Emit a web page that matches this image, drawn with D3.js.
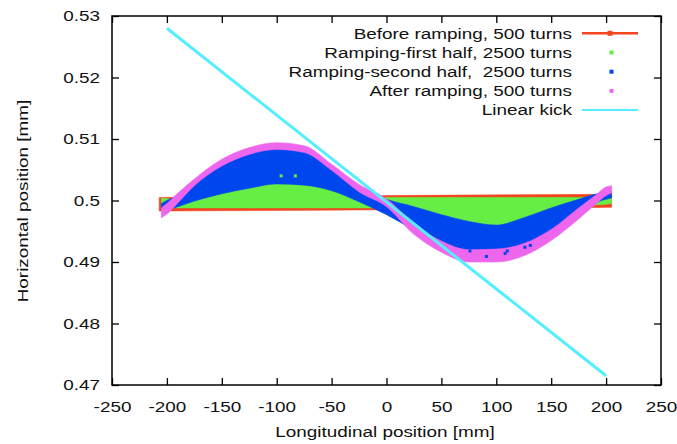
<!DOCTYPE html>
<html><head><meta charset="utf-8">
<script src="https://cdn.jsdelivr.net/npm/d3@7"></script>
<style>
html,body{margin:0;padding:0;background:#fff;}
svg{display:block;font-family:"Liberation Sans",Arial,Helvetica,sans-serif;}
</style></head>
<body><svg id="c" width="677" height="444"></svg>
<script>
// ---- data ----
const xTicks = [-250,-200,-150,-100,-50,0,50,100,150,200,250];
const yTicks = [0.47,0.48,0.49,0.5,0.51,0.52,0.53];
const seriesNames = ["Before ramping, 500 turns","Ramping-first half, 2500 turns","Ramping-second half,  2500 turns","After ramping, 500 turns","Linear kick"];

// band sample positions (mm)
const bandX = [-205,-200,-190,-175,-150,-125,-100,-75,-50,-25,0,25,50,75,100,125,150,175,190,200,205];

// Before ramping (red)
const redX  = [-207, 0, 205];
const redLo = [0.4983, 0.4985, 0.4989];
const redHi = [0.5005, 0.5008, 0.5010];

// Ramping first half (green)
const greenLo = [0.4990,0.4989,0.4988,0.4988,0.4988,0.4988,0.4988,0.4988,0.4988,0.4988,0.4988,0.4987,0.4975,0.4965,0.4959,0.4971,0.4986,0.4999,0.4993,0.4994,0.4995];
const greenHi = [0.5004,0.5003,0.5001,0.5003,0.5013,0.5023,0.5030,0.5027,0.5018,0.5002,0.5005,0.5005,0.5005,0.5005,0.5005,0.5005,0.5005,0.5005,0.5005,0.5005,0.5005];

// Ramping second half (blue)
const blueLo = [0.4983,0.4985,0.4990,0.4999,0.5011,0.5020,0.5027,0.5025,0.5016,0.4998,0.4977,0.4952,0.4928,0.4915,0.4914,0.4920,0.4940,0.4975,0.4996,0.5002,0.5004];
const blueHi = [0.4995,0.5000,0.5008,0.5030,0.5062,0.5080,0.5088,0.5084,0.5055,0.5022,0.5002,0.4990,0.4977,0.4966,0.4960,0.4972,0.4988,0.5002,0.5010,0.5014,0.5015];

// After ramping (magenta)
const magLo = [0.4972,0.4978,0.4996,0.5024,0.5056,0.5075,0.5083,0.5078,0.5049,0.5014,0.4990,0.4945,0.4916,0.4900,0.4900,0.4910,0.4935,0.4970,0.4993,0.5008,0.5012];
const magHi = [0.4988,0.4995,0.5012,0.5035,0.5067,0.5086,0.5094,0.5089,0.5059,0.5026,0.5003,0.4962,0.4934,0.4920,0.4921,0.4930,0.4953,0.4988,0.5008,0.5022,0.5024];

// stray points
const greenDotsX = [-96,-83];
const greenDotsY = [0.5040,0.5040];
const blueDotsX = [76,91,108,110,126,131];
const blueDotsY = [0.4918,0.4909,0.4914,0.4918,0.4924,0.4927];

// Linear kick (cyan)
const kickX = [-200, 200];
const kickY = [0.528, 0.4715];

// ---- layout ----
const colors = {red:"#f2441e", green:"#66ee44", blue:"#0046ee", mag:"#ee66ee", cyan:"#55eeff"};
const M = {left:112, right:661, top:16, bottom:385};
const SX = 1.22; // horizontal text stretch
const FS = 15.5;

const svg = d3.select("#c");
const x = d3.scaleLinear().domain([-250,250]).range([M.left, M.right]);
const y = d3.scaleLinear().domain([0.47,0.53]).range([M.bottom, M.top]);

function band(xs, lo, hi, color){
  const data = xs.map((v,i)=>({x:v, lo:lo[i], hi:hi[i]}));
  svg.append("path").datum(data)
    .attr("fill", color).attr("stroke", color).attr("stroke-width", 0.6)
    .attr("d", d3.area().x(d=>x(d.x)).y0(d=>y(d.lo)).y1(d=>y(d.hi)).curve(d3.curveMonotoneX));
}
band(redX, redLo, redHi, colors.red);
band(bandX, greenLo, greenHi, colors.green);
band(bandX, blueLo, blueHi, colors.blue);
band(bandX, magLo, magHi, colors.mag);

svg.append("g").selectAll("rect").data(greenDotsX).join("rect")
  .attr("x",(d)=>x(d)-1.5).attr("y",(d,i)=>y(greenDotsY[i])-1.5).attr("width",3).attr("height",3).attr("fill",colors.green);
svg.append("g").selectAll("rect").data(blueDotsX).join("rect")
  .attr("x",(d)=>x(d)-1.5).attr("y",(d,i)=>y(blueDotsY[i])-1.5).attr("width",3).attr("height",3).attr("fill",colors.blue);

svg.append("path").datum(kickX.map((v,i)=>[v,kickY[i]]))
  .attr("fill","none").attr("stroke",colors.cyan).attr("stroke-width",3)
  .attr("d", d3.line().x(d=>x(d[0])).y(d=>y(d[1])));

// ---- axes ----
function styleAxis(g){
  g.select(".domain").remove();
  g.selectAll(".tick line").attr("stroke","#000").attr("stroke-width",1.3);
  g.selectAll("text").attr("font-size",FS).attr("fill","#111")
    .attr("font-family","Liberation Sans, Arial, sans-serif");
}
const gb = svg.append("g").attr("transform",`translate(0,${M.bottom})`)
  .call(d3.axisBottom(x).tickValues(xTicks).tickSizeInner(-7).tickSizeOuter(0).tickPadding(16).tickFormat(d=>String(d)));
styleAxis(gb);
gb.selectAll("text").attr("transform",`scale(${SX},1)`);

const gl = svg.append("g").attr("transform",`translate(${M.left},0)`)
  .call(d3.axisLeft(y).tickValues(yTicks).tickSizeInner(-7).tickSizeOuter(0).tickPadding(9.8).tickFormat(d=>String(+d.toFixed(2))));
styleAxis(gl);
gl.selectAll("text").attr("transform",`scale(${SX},1)`);

const gt = svg.append("g").attr("transform",`translate(0,${M.top})`)
  .call(d3.axisTop(x).tickValues(xTicks).tickSizeInner(-7).tickSizeOuter(0).tickFormat(""));
styleAxis(gt);
const gr = svg.append("g").attr("transform",`translate(${M.right},0)`)
  .call(d3.axisRight(y).tickValues(yTicks).tickSizeInner(-7).tickSizeOuter(0).tickFormat(""));
styleAxis(gr);

svg.append("rect").attr("x",M.left).attr("y",M.top)
  .attr("width",M.right-M.left).attr("height",M.bottom-M.top)
  .attr("fill","none").attr("stroke","#000").attr("stroke-width",1.5);

// titles
function label(txt, tx, ty, rot, anchor){
  svg.append("text").text(txt)
    .attr("transform",`translate(${tx},${ty}) rotate(${rot}) scale(${SX},1)`)
    .attr("text-anchor",anchor).attr("font-size",FS).attr("fill","#111")
    .style("white-space","pre");
}
label("Longitudinal position [mm]", 385, 437, 0, "middle");
label("Horizontal position [mm]", 28, 201, -90, "middle");

// ---- legend ----
const legColors = [colors.red, colors.green, colors.blue, colors.mag, colors.cyan];
seriesNames.forEach((nm,i)=>{
  const cy = 33.3 + i*19.2;
  label(nm, 572, cy+5.3, 0, "end");
  if(i===0){
    svg.append("line").attr("x1",582).attr("x2",638).attr("y1",cy).attr("y2",cy).attr("stroke",legColors[i]).attr("stroke-width",2.5);
    svg.append("rect").attr("x",607.5).attr("y",cy-2.5).attr("width",5).attr("height",5).attr("fill",legColors[i]);
  } else if(i===4){
    svg.append("line").attr("x1",582).attr("x2",638).attr("y1",cy).attr("y2",cy).attr("stroke",legColors[i]).attr("stroke-width",2);
  } else {
    svg.append("rect").attr("x",609.5).attr("y",cy-2).attr("width",4).attr("height",4).attr("fill",legColors[i]);
  }
});
</script></body></html>
